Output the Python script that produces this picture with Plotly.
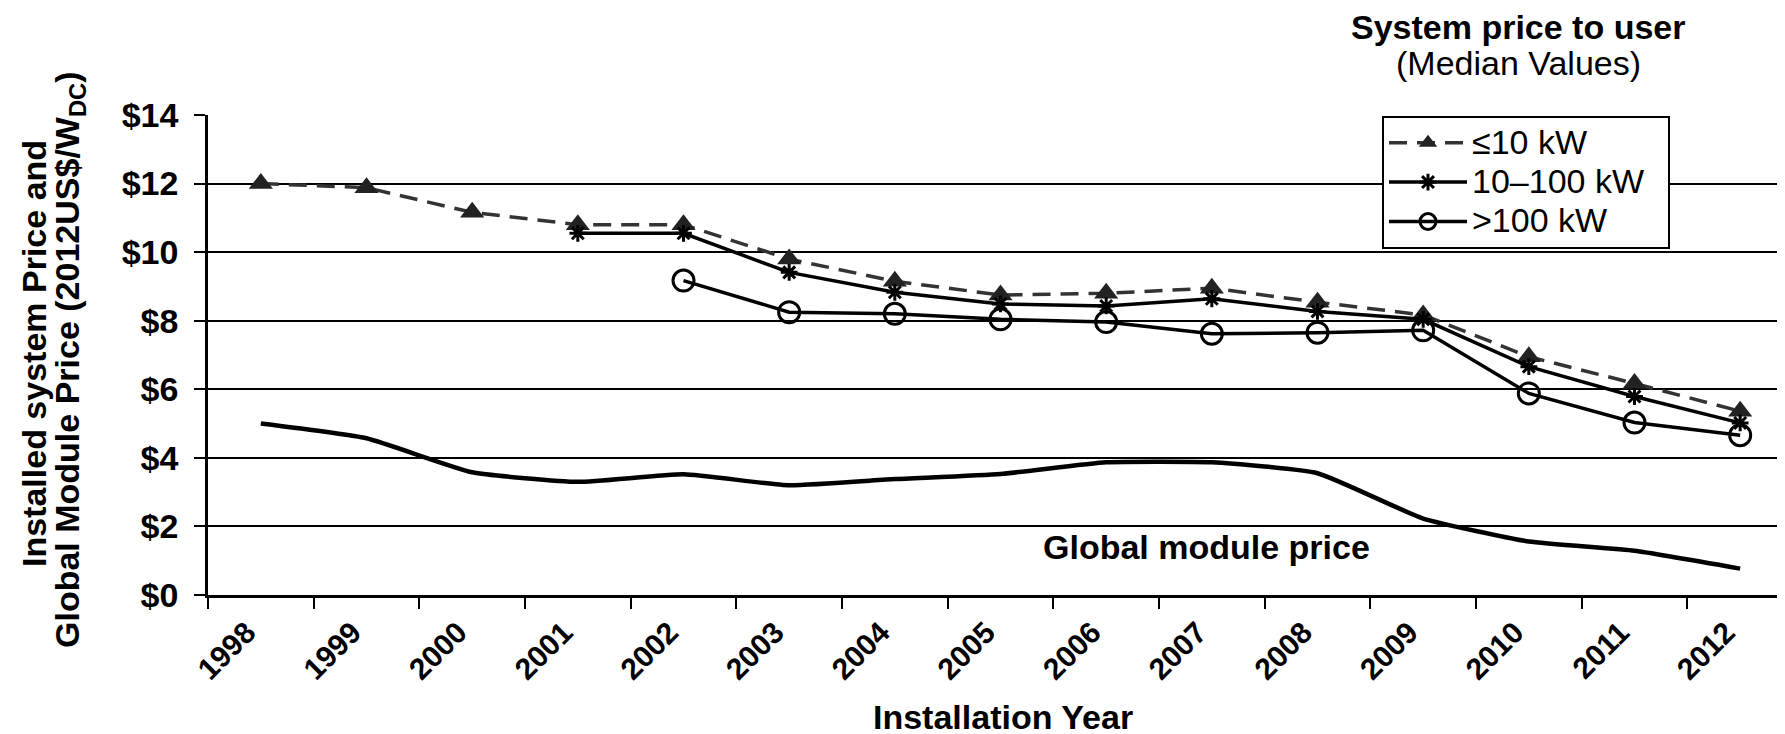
import plotly.graph_objects as go

years = ["1998", "1999", "2000", "2001", "2002", "2003", "2004", "2005",
         "2006", "2007", "2008", "2009", "2010", "2011", "2012"]
small_kw = [12.0, 11.88, 11.16, 10.8, 10.8, 9.8, 9.15, 8.75, 8.8, 8.95, 8.54, 8.17, 6.95, 6.17, 5.36]
mid_kw = [None, None, None, 10.55, 10.55, 9.41, 8.83, 8.49, 8.43, 8.64, 8.27, 8.04, 6.66, 5.79, 5.02]
large_kw = [None, None, None, None, 9.17, 8.25, 8.2, 8.04, 7.96, 7.62, 7.65, 7.72, 5.88, 5.03, 4.66]
module_price = [5.0, 4.57, 3.58, 3.3, 3.52, 3.2, 3.38, 3.53, 3.87, 3.87, 3.55, 2.23, 1.56, 1.29, 0.77]
y_ticks = [0, 2, 4, 6, 8, 10, 12, 14]
y_tick_labels = ["$0", "$2", "$4", "$6", "$8", "$10", "$12", "$14"]
series_names = ["≤10 kW", "10–100 kW", ">100 kW"]

FONT = "Liberation Sans, Arial, Helvetica, sans-serif"
W, H = 1785, 734
L, R, T, B = 200, 0, 107, 147
PW, PH = W - L - R, H - T - B


def px_x(px):
    return (px - L) / PW


def px_y(py):
    return (H - B - py) / PH


def legend_name(s):
    return '<span style="font-size:34px">%s\u00a0\u00a0</span>' % s


fig = go.Figure()

fig.add_trace(go.Scatter(
    x=years, y=module_price, mode="lines", showlegend=False,
    line=dict(color="black", width=4.5, shape="spline", smoothing=0.45),
    hoverinfo="skip"))

fig.add_trace(go.Scatter(
    x=years, y=small_kw, mode="lines+markers", name=legend_name(series_names[0]),
    line=dict(color="#333333", width=3.5, dash="18px,10px"),
    marker=dict(symbol="triangle-up", size=21, color="#222222")))

fig.add_trace(go.Scatter(
    x=years, y=mid_kw, mode="lines+markers", name=legend_name(series_names[1]),
    line=dict(color="black", width=3.5),
    marker=dict(symbol="asterisk-open", size=14, color="black",
                line=dict(color="black", width=3))))

fig.add_trace(go.Scatter(
    x=years, y=large_kw, mode="lines+markers", name=legend_name(series_names[2]),
    line=dict(color="black", width=3.5),
    marker=dict(symbol="circle-open", size=21, color="black",
                line=dict(color="black", width=3))))

fig.update_layout(
    width=W, height=H,
    margin=dict(l=L, r=R, t=T, b=B, pad=0),
    paper_bgcolor="white", plot_bgcolor="white",
    font=dict(family=FONT, size=30, color="black"),
    showlegend=True,
    legend=dict(
        x=px_x(1374), y=px_y(108), xanchor="left", yanchor="top",
        bgcolor="white", bordercolor="black", borderwidth=2,
        font=dict(family=FONT, size=28, color="black"),
        itemwidth=78, tracegroupgap=0,
    ),
    xaxis=dict(
        type="category", range=[-0.5, 14.5],
        tickson="boundaries", ticks="outside", ticklen=11, tickwidth=2,
        tickcolor="black", tickangle=-45,
        showline=True, linecolor="black", linewidth=2.5,
        showgrid=False, zeroline=False,
        tickfont=dict(family=FONT, size=30, color="black"),
        ticktext=["<b>%s</b>" % y for y in years], tickvals=years,
        ticklabelshift=-14, ticklabelstandoff=5,
        fixedrange=True,
    ),
    yaxis=dict(
        range=[0, 14], tickvals=y_ticks, ticktext=["<b>%s</b>" % t for t in y_tick_labels],
        ticks="outside", ticklen=11, tickwidth=2, tickcolor="black",
        showline=True, linecolor="black", linewidth=2.5,
        showgrid=True, gridcolor="black", gridwidth=2,
        zeroline=False,
        tickfont=dict(family=FONT, size=34, color="black"),
        ticklabelstandoff=9,
        fixedrange=True,
    ),
)

annotations = [
    dict(text="<b>Installed system Price and</b>",
         xref="paper", yref="paper", x=px_x(26), y=px_y(346),
         xanchor="center", yanchor="middle", textangle=-90, showarrow=False,
         font=dict(family=FONT, size=34, color="black")),
    dict(text="<b>Global Module Price (2012US$/W<sub>DC</sub>)</b>",
         xref="paper", yref="paper", x=px_x(61), y=px_y(352),
         xanchor="center", yanchor="middle", textangle=-90, showarrow=False,
         font=dict(family=FONT, size=34, color="black")),
    dict(text="<b>Installation Year</b>",
         xref="paper", yref="paper", x=px_x(995), y=px_y(709),
         xanchor="center", yanchor="middle", showarrow=False,
         font=dict(family=FONT, size=34, color="black")),
    dict(text="<b>System price to user</b>",
         xref="paper", yref="paper", x=px_x(1510), y=px_y(19),
         xanchor="center", yanchor="middle", showarrow=False,
         font=dict(family=FONT, size=34, color="black")),
    dict(text="(Median Values)",
         xref="paper", yref="paper", x=px_x(1510), y=px_y(55),
         xanchor="center", yanchor="middle", showarrow=False,
         font=dict(family=FONT, size=34, color="black")),
    dict(text="<b>Global module price</b>",
         xref="paper", yref="paper", x=px_x(1198), y=px_y(539),
         xanchor="center", yanchor="middle", showarrow=False,
         font=dict(family=FONT, size=34, color="black")),
]
fig.update_layout(annotations=annotations)

fig.write_html("out.html")
